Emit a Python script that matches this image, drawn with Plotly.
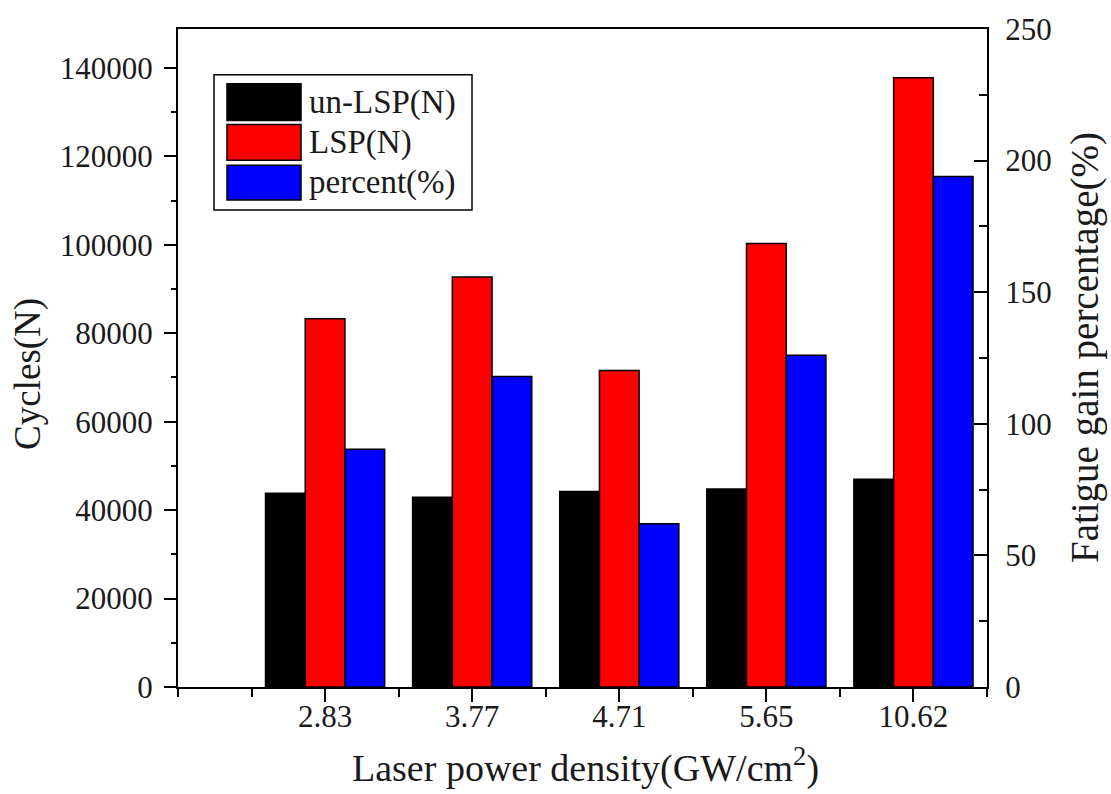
import plotly.graph_objects as go

# ---- data ----
categories = ["2.83", "3.77", "4.71", "5.65", "10.62"]
un_lsp = [43800, 42900, 44200, 44800, 47000]
lsp = [83300, 92700, 71600, 100300, 137800]
percent = [90.3, 118.0, 62.0, 126.0, 194.0]
series_names = ["un-LSP(N)", "LSP(N)", "percent(%)"]
series_colors = ["#000000", "#ff0000", "#0000ff"]

positions = list(range(1, len(categories) + 1))

W, H = 1111, 794
L, R, T, B = 178, 987, 25, 687  # plot area in pixels


def px(x):
    return (x - L) / (R - L)


def py(y):
    return (B - y) / (B - T)


FONT = "Liberation Serif, Times New Roman, serif"
TXT = "#1a1a1a"

fig = go.Figure()
bw = 0.27
offsets = [-0.405, -0.135, 0.135]
data = [un_lsp, lsp, percent]
axes = ["y", "y", "y2"]
for name, vals, col, off, ax in zip(series_names, data, series_colors, offsets, axes):
    fig.add_trace(go.Bar(
        x=positions, y=vals, name=name, width=bw, offset=off, yaxis=ax,
        marker=dict(color=col, line=dict(color="black", width=1.5)),
        showlegend=False,
    ))

shapes = []
annotations = []

# custom legend
shapes.append(dict(type="rect", xref="paper", yref="paper",
                   x0=px(214), x1=px(472), y0=py(207), y1=py(71),
                   line=dict(color="black", width=1.5), fillcolor="white"))
rows = [(80, 117), (121, 157), (162, 197)]
for (y0, y1), name, col in zip(rows, series_names, series_colors):
    shapes.append(dict(type="rect", xref="paper", yref="paper",
                       x0=px(227), x1=px(301), y0=py(y1), y1=py(y0),
                       line=dict(color="black", width=1.5), fillcolor=col))
    annotations.append(dict(xref="paper", yref="paper", x=px(307), y=py((y0 + y1) / 2),
                            text=name, showarrow=False, xanchor="left", yanchor="middle",
                            font=dict(family=FONT, size=33, color=TXT)))

# axis titles
annotations.append(dict(xref="paper", yref="paper", x=px(28), y=py(372), text="Cycles(N)",
                        textangle=-90, showarrow=False, xanchor="center", yanchor="middle",
                        font=dict(family=FONT, size=37, color=TXT)))
annotations.append(dict(xref="paper", yref="paper", x=px(1085), y=py(346),
                        text="Fatigue gain percentage(%)",
                        textangle=-90, showarrow=False, xanchor="center", yanchor="middle",
                        font=dict(family=FONT, size=39, color=TXT)))
annotations.append(dict(xref="paper", yref="paper", x=px(585), y=py(766),
                        text="Laser power density(GW/cm<sup>2</sup>)",
                        showarrow=False, xanchor="center", yanchor="middle",
                        font=dict(family=FONT, size=38, color=TXT)))

fig.update_layout(
    width=W, height=H,
    margin=dict(l=L, r=W - R, t=T, b=H - B, pad=0),
    paper_bgcolor="white", plot_bgcolor="white",
    barmode="overlay",
    shapes=shapes, annotations=annotations,
    font=dict(family=FONT, size=31, color=TXT),
    xaxis=dict(
        range=[0, 5.5], tickmode="array", tickvals=positions, ticktext=categories,
        ticks="outside", ticklen=13, tickwidth=2, tickcolor="black",
        showline=True, linewidth=2, linecolor="black", mirror=True,
        showgrid=False, zeroline=False,
        minor=dict(tickmode="array", tickvals=[0] + [p - 0.5 for p in positions] + [5.5],
                   ticks="outside", ticklen=8, tickwidth=2, tickcolor="black"),
        tickfont=dict(family=FONT, size=31, color=TXT),
        ticklabelstandoff=-12,
    ),
    yaxis=dict(
        range=[0, 148800], tick0=0, dtick=20000, tickformat="d",
        ticks="outside", ticklen=12, tickwidth=2, tickcolor="black",
        showline=True, linewidth=2, linecolor="black",
        showgrid=False, zeroline=False,
        minor=dict(tick0=0, dtick=10000, ticks="outside", ticklen=5, tickwidth=2, tickcolor="black"),
        tickfont=dict(family=FONT, size=31, color=TXT),
        ticklabelstandoff=5,
    ),
    yaxis2=dict(
        overlaying="y", side="right", range=[0, 250], tick0=0, dtick=50,
        ticks="inside", ticklen=13, tickwidth=2, tickcolor="black",
        showline=True, linewidth=2, linecolor="black",
        showgrid=False, zeroline=False,
        minor=dict(tick0=0, dtick=25, ticks="inside", ticklen=8, tickwidth=2, tickcolor="black"),
        tickfont=dict(family=FONT, size=31, color=TXT),
        ticklabelstandoff=10,
    ),
)

fig.write_html("out.html")
